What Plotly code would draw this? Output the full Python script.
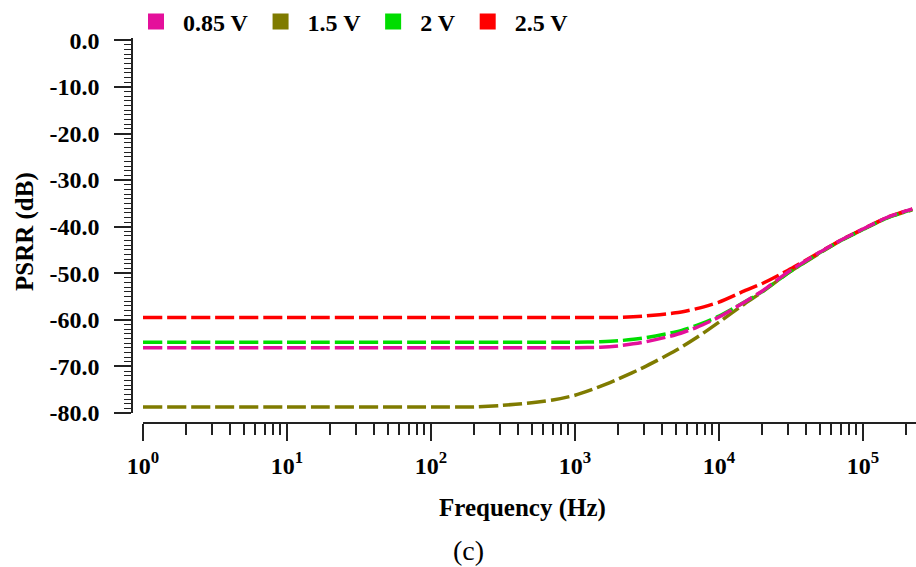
import plotly.graph_objects as go

# Frequency points (Hz)
freq = [1, 10, 100, 200, 300, 500, 700, 1000, 1500, 2000, 3000, 5000, 7000,
        1e4, 1.5e4, 2e4, 3e4, 5e4, 7e4, 1e5, 1.5e5, 2.2e5]

# PSRR (dB) per supply voltage
psrr_085 = [-66.0, -66.0, -66.0, -66.0, -66.0, -66.0, -66.0, -66.0, -65.9, -65.6, -64.8, -63.2, -61.6,
            -59.4, -56.2, -53.8, -49.8, -45.5, -42.9, -40.5, -37.9, -36.2]
psrr_15 = [-78.7, -78.7, -78.7, -78.7, -78.4, -77.8, -77.2, -76.2, -74.3, -72.7, -70.2, -66.6, -63.8,
           -60.5, -56.6, -54.0, -50.0, -45.7, -43.0, -40.6, -38.0, -36.4]
psrr_2 = [-64.8, -64.8, -64.8, -64.8, -64.8, -64.8, -64.8, -64.8, -64.7, -64.5, -63.9, -62.6, -61.2,
          -59.2, -56.2, -53.9, -50.0, -45.6, -43.0, -40.6, -38.0, -36.3]
psrr_25 = [-59.5, -59.5, -59.5, -59.5, -59.5, -59.5, -59.5, -59.5, -59.5, -59.5, -59.2, -58.5, -57.6,
           -56.2, -53.8, -52.2, -49.4, -45.5, -42.9, -40.5, -37.9, -36.2]

series_names = ["0.85 V", "1.5 V", "2 V", "2.5 V"]
series_vals = [psrr_085, psrr_15, psrr_2, psrr_25]
colors = ["#E4109B", "#7F7B00", "#00DD00", "#FF0000"]
draw_order = [1, 3, 2, 0]

y_tickvals = [0, -10, -20, -30, -40, -50, -60, -70, -80]
y_ticktext = ["0.0", "-10.0", "-20.0", "-30.0", "-40.0", "-50.0", "-60.0", "-70.0", "-80.0"]
y_midticks = [-5, -15, -25, -35, -45, -55, -65, -75]
x_tickvals = [1, 10, 100, 1000, 10000, 100000]
x_ticktext = ["10<sup>0</sup>", "10<sup>1</sup>", "10<sup>2</sup>", "10<sup>3</sup>", "10<sup>4</sup>", "10<sup>5</sup>"]

FONT = "Liberation Serif"
W, H = 916, 567

fig = go.Figure()
for i in draw_order:
    fig.add_trace(go.Scatter(
        x=freq, y=series_vals[i], mode="lines", showlegend=False, hoverinfo="skip",
        line=dict(color=colors[i], width=3.5, dash="19px,5px", shape="spline", smoothing=0.6),
    ))
for i, name in enumerate(series_names):
    fig.add_trace(go.Scatter(
        x=[None], y=[None], mode="markers", name=name, legendrank=i + 1,
        marker=dict(symbol="square", size=16, color=colors[i]),
    ))

x0 = 143 / W
ydom = [(H - 413) / H, (H - 38) / H]
fig.update_layout(
    width=W, height=H,
    margin=dict(l=0, r=0, t=0, b=0, autoexpand=False),
    paper_bgcolor="white", plot_bgcolor="white",
    font=dict(family=FONT, color="black"),
    showlegend=True,
    legend=dict(orientation="h", x=129 / W, y=1 - 22 / H, xanchor="left", yanchor="middle",
                font=dict(family=FONT, size=24, weight="bold"), itemsizing="trace", itemwidth=44,
                bgcolor="rgba(0,0,0,0)", borderwidth=0, tracegroupgap=0),
    xaxis=dict(
        type="log", range=[0, 5.368], domain=[x0, 1], anchor="free", position=(H - 423) / H,
        automargin=False,
        showgrid=False, zeroline=False, showline=True, linecolor="#222", linewidth=1.5,
        tickmode="array", tickvals=x_tickvals, ticktext=x_ticktext,
        ticks="outside", ticklen=17, tickwidth=1.5, tickcolor="#222",
        tickfont=dict(family=FONT, size=24, weight="bold"), ticklabelstandoff=4,
        minor=dict(ticks="outside", ticklen=11, tickwidth=1.5, tickcolor="#222", dtick="D1", showgrid=False),
    ),
    yaxis=dict(
        range=[-80, 0.5], domain=ydom, anchor="free", position=132 / W,
        automargin=False,
        showgrid=False, zeroline=False, showline=True, linecolor="#222", linewidth=1.5,
        tickmode="array", tickvals=y_tickvals, ticktext=y_ticktext,
        ticks="outside", ticklen=17, tickwidth=1.5, tickcolor="#222",
        tickfont=dict(family=FONT, size=24, weight="bold"), ticklabelstandoff=10,
        minor=dict(ticks="outside", ticklen=7, tickwidth=1.2, tickcolor="#222", dtick=1, tick0=0, showgrid=False),
    ),
    yaxis2=dict(
        range=[-80, 0.5], domain=ydom, anchor="free", position=132 / W, overlaying="y",
        automargin=False, showgrid=False, zeroline=False, showline=False,
        tickmode="array", tickvals=y_midticks, showticklabels=False,
        ticks="outside", ticklen=11, tickwidth=1.3, tickcolor="#222",
    ),
    annotations=[
        dict(text="<b>PSRR (dB)</b>", x=25 / W, y=1 - 232 / H, xref="paper", yref="paper",
             textangle=-90, showarrow=False, font=dict(family=FONT, size=25), xanchor="center", yanchor="middle"),
        dict(text="<b>Frequency (Hz)</b>", x=522 / W, y=1 - 508 / H, xref="paper", yref="paper",
             showarrow=False, font=dict(family=FONT, size=25), xanchor="center", yanchor="middle"),
        dict(text="(c)", x=469 / W, y=1 - 550 / H, xref="paper", yref="paper",
             showarrow=False, font=dict(family=FONT, size=28), xanchor="center", yanchor="middle"),
    ],
)

fig.write_html("out.html")
